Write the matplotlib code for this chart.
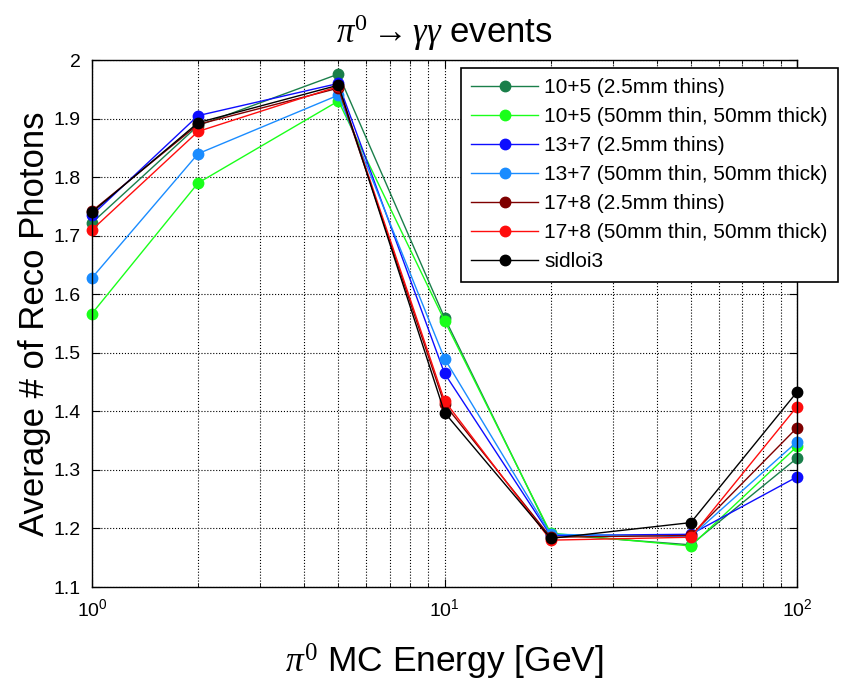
import matplotlib
matplotlib.use("Agg")
import matplotlib.pyplot as plt
from matplotlib.ticker import LogLocator, NullFormatter

plt.rcParams['font.family'] = ['Liberation Sans', 'DejaVu Sans']
plt.rcParams['mathtext.fontset'] = 'custom'
plt.rcParams['mathtext.rm'] = 'Liberation Serif'
plt.rcParams['mathtext.it'] = 'Liberation Serif:italic'

energy = [1, 2, 5, 10, 20, 50, 100]
labels = ["10+5 (2.5mm thins)", "10+5 (50mm thin, 50mm thick)",
          "13+7 (2.5mm thins)", "13+7 (50mm thin, 50mm thick)",
          "17+8 (2.5mm thins)", "17+8 (50mm thin, 50mm thick)", "sidloi3"]
colors = ["#1a7f4a", "#1aff1a", "#0d0dff", "#1a8cff", "#7f0000", "#ff0d0d", "#000000"]
s_10_5_thin = [1.722, 1.888, 1.976, 1.560, 1.190, 1.172, 1.320]
s_10_5_thick = [1.567, 1.790, 1.930, 1.555, 1.192, 1.170, 1.340]
s_13_7_thin = [1.735, 1.905, 1.960, 1.465, 1.188, 1.190, 1.288]
s_13_7_thick = [1.628, 1.840, 1.940, 1.490, 1.190, 1.186, 1.348]
s_17_8_thin = [1.742, 1.890, 1.952, 1.412, 1.185, 1.188, 1.372]
s_17_8_thick = [1.710, 1.878, 1.955, 1.418, 1.180, 1.185, 1.408]
s_sidloi3 = [1.740, 1.893, 1.957, 1.398, 1.183, 1.210, 1.433]
series = [s_10_5_thin, s_10_5_thick, s_13_7_thin, s_13_7_thick,
          s_17_8_thin, s_17_8_thick, s_sidloi3]

W, H = 844, 684
fig = plt.figure(figsize=(W / 100, H / 100), dpi=100)
ax = fig.add_axes([92 / W, 1 - 587 / H, (797 - 92) / W, (587 - 60) / H])
for y, c, l in zip(series, colors, labels):
    ax.plot(energy, y, '-o', color=c, label=l, lw=1.0, ms=7.5, clip_on=False)

ax.set_xscale('log')
ax.set_xlim(1, 100)
ax.set_ylim(1.1, 2.0)
ax.set_yticks([1.1, 1.2, 1.3, 1.4, 1.5, 1.6, 1.7, 1.8, 1.9, 2.0])
ax.set_yticklabels(["1.1", "1.2", "1.3", "1.4", "1.5", "1.6", "1.7", "1.8", "1.9", "2"])
ax.xaxis.set_major_locator(LogLocator(base=10, numticks=10))
ax.xaxis.set_minor_locator(LogLocator(base=10, subs=range(2, 10), numticks=20))
ax.xaxis.set_minor_formatter(NullFormatter())
ax.grid(True, which='major', ls=':', color='k', lw=0.8)
ax.grid(True, which='minor', axis='x', ls=':', color='k', lw=0.8)
ax.tick_params(which='both', direction='in', labelsize=14, top=True, right=True)
ax.tick_params(axis='y', pad=8)
ax.tick_params(axis='x', pad=8)
ax.tick_params(which='major', length=6)
ax.tick_params(which='minor', length=3)
for sp in ax.spines.values():
    sp.set_linewidth(1.0)

ax.set_xlabel(r"$\pi^0$ MC Energy [GeV]", fontsize=25.5, labelpad=16)
ax.set_ylabel("Average # of Reco Photons", fontsize=25, labelpad=2)
ax.set_title(r"$\pi^0 \rightarrow \gamma\gamma$ events", fontsize=25, pad=12)

leg = ax.legend(loc='upper right', bbox_to_anchor=(838 / W, 1 - 68 / H),
                bbox_transform=fig.transFigure, borderaxespad=0,
                fontsize=15, fancybox=False, framealpha=1,
                edgecolor='k', handlelength=3.2, handletextpad=0.3,
                labelspacing=0.48, borderpad=0.5)
leg.get_frame().set_linewidth(1.2)

fig.savefig("out.png", dpi=100)
